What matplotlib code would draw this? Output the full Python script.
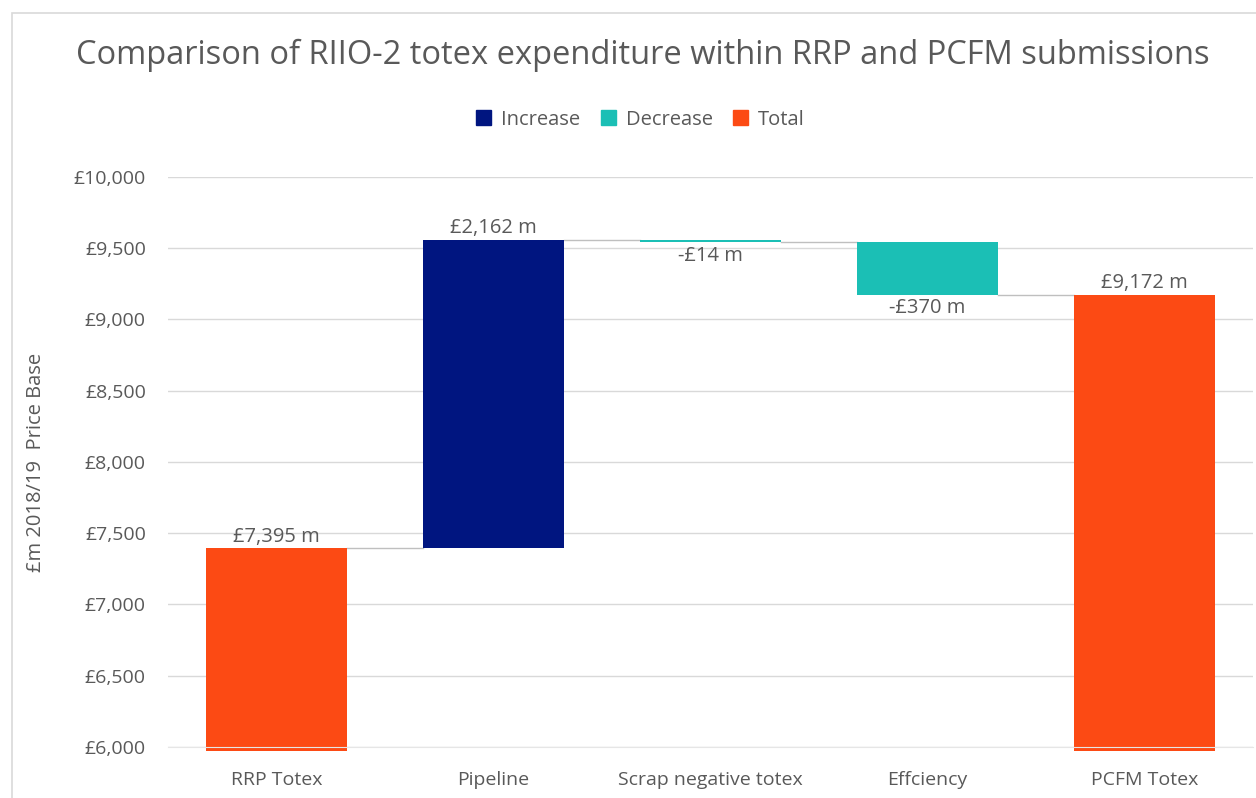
import matplotlib.pyplot as plt
from matplotlib.patches import Patch, Rectangle

plt.rcParams['font.family'] = ['Open Sans', 'DejaVu Sans']

# Data
categories = ["RRP Totex", "Pipeline", "Scrap negative totex", "Effciency", "PCFM Totex"]
changes = [7395, 2162, -14, -370, 9172]
kinds = ["total", "increase", "decrease", "decrease", "total"]
labels = ["£7,395 m", "£2,162 m", "-£14 m", "-£370 m", "£9,172 m"]

colors = {"increase": "#001580", "decrease": "#1bbfb5", "total": "#fc4a14"}
base_y = 5975  # totals run a touch below the axis line, like the excel original
txt = "#595959"

fig = plt.figure(figsize=(12.56, 7.98), dpi=100)
ax = fig.add_axes([168 / 1256, 51 / 798, 1085 / 1256, 570 / 798])

# outer chart border like the excel frame
fig.patches.append(Rectangle((12 / 1256, -0.01), 1.1, 1 - 13 / 798 + 0.01,
                             transform=fig.transFigure, fill=False,
                             edgecolor="#d9d9d9", lw=1.2))

running = 0
for i, (v, k) in enumerate(zip(changes, kinds)):
    if k == "total":
        lo, hi = base_y, v
        running = v
    else:
        start = running
        running = running + v
        lo, hi = min(start, running), max(start, running)
    ax.bar(i, hi - lo, bottom=lo, width=0.65, color=colors[k], zorder=3, clip_on=False)
    if k == "decrease":
        ax.text(i, lo - 25, labels[i], ha="center", va="top", fontsize=14.5, color=txt)
    else:
        ax.text(i, hi + 12, labels[i], ha="center", va="bottom", fontsize=14.5, color=txt)

# connector lines
level = changes[0]
for i in range(len(changes) - 1):
    if kinds[i] == "total":
        level = changes[i]
    else:
        level = level + changes[i]
    ax.plot([i + 0.325, i + 1 - 0.325], [level, level], color="#bfbfbf", lw=1, zorder=2)

ax.set_xlim(-0.5, 4.5)
ax.set_ylim(6000, 10000)
ax.set_yticks(range(6000, 10001, 500))
ax.set_yticklabels(["£{:,}".format(t) for t in range(6000, 10001, 500)])
ax.set_xticks(range(len(categories)))
ax.set_xticklabels(categories)
ax.tick_params(axis="x", length=0, labelsize=14, colors=txt, pad=17)
ax.tick_params(axis="y", length=0, labelsize=14, colors=txt, pad=16)
ax.grid(axis="y", color="#d9d9d9", lw=1, zorder=0)
for s in ["top", "right", "left"]:
    ax.spines[s].set_visible(False)
ax.spines["bottom"].set_color("#e6e6e6")
ax.spines["bottom"].set_zorder(4)
ax.set_ylabel("£m 2018/19  Price Base", fontsize=14.5, color=txt, labelpad=20)

fig.text(0.512, 0.93, "Comparison of RIIO-2 totex expenditure within RRP and PCFM submissions",
         ha="center", va="center", fontsize=23.5, color=txt)

handles = [Patch(color=colors["increase"], label="Increase"),
           Patch(color=colors["decrease"], label="Decrease"),
           Patch(color=colors["total"], label="Total")]
fig.legend(handles=handles, loc="center", bbox_to_anchor=(0.51, 0.85), ncol=3,
           frameon=False, fontsize=14.5, handlelength=0.75, handleheight=0.75,
           columnspacing=1.0, handletextpad=0.5, labelcolor=txt)

fig.savefig("out.png", dpi=100)
